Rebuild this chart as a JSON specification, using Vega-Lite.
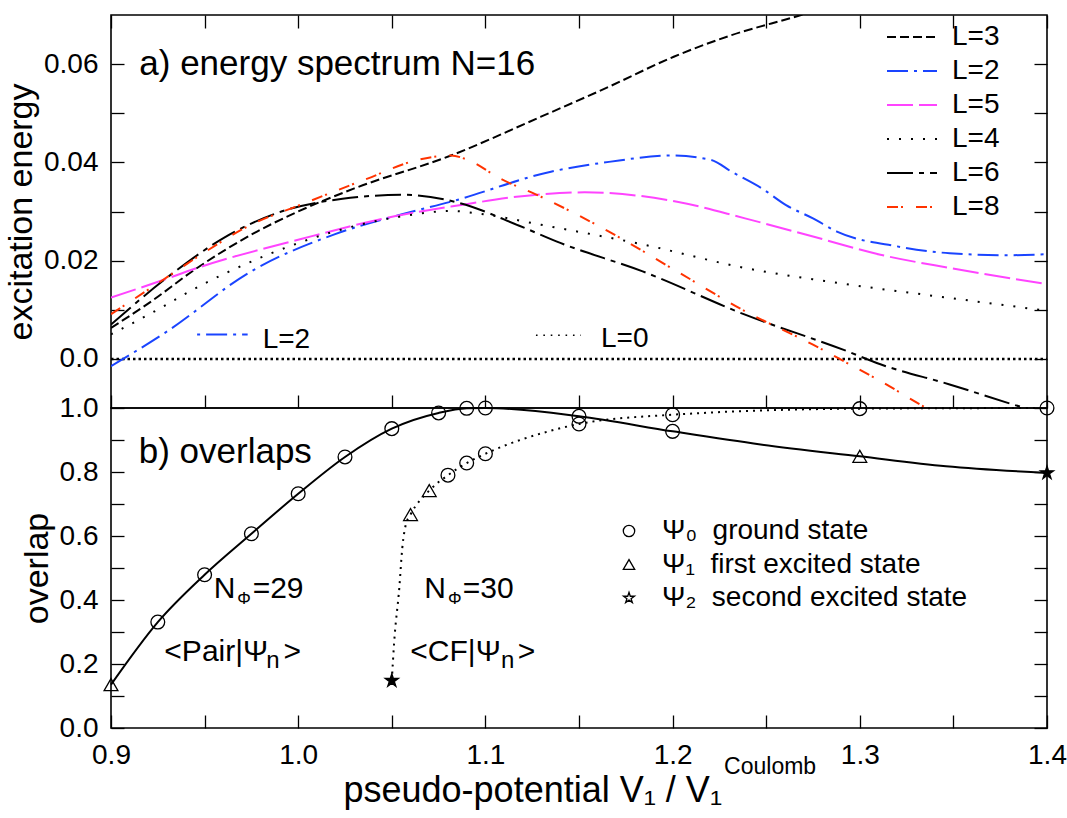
{
  "$schema": "https://vega.github.io/schema/vega-lite/v6.json",
  "background": "white",
  "padding": {"left": 3, "top": 13, "right": 5, "bottom": 5},
  "spacing": 0,
  "bounds": "flush",
  "config": {
    "font": "Liberation Sans",
    "view": {"stroke": "black", "strokeWidth": 1.6},
    "axis": {"grid": false, "domain": false, "ticks": true, "tickColor": "black", "tickWidth": 1.3, "tickSize": -13, "labelFont": "Liberation Sans", "labelFontSize": 28, "labelColor": "black", "labelPadding": 26, "labelFlush": false, "labelOverlap": false, "titleFont": "Liberation Sans", "titleFontSize": 34, "titleFontWeight": "normal", "titleColor": "black", "titlePadding": 5},
    "legend": {"labelFont": "Liberation Sans", "labelColor": "black", "labelFontSize": 28, "labelLimit": 500}
  },
  "resolve": {"scale": {"color": "independent", "strokeDash": "independent", "shape": "independent"}, "legend": {"color": "independent", "strokeDash": "independent", "shape": "independent"}},
  "datasets": {
    "zero": [{"x": 0.9, "y": 0}, {"x": 1.4, "y": 0}],
    "lines": [
      {"L": "L=3", "x": 0.9, "y": 0.0063}, {"L": "L=3", "x": 0.92, "y": 0.0113}, {"L": "L=3", "x": 0.946, "y": 0.0185}, {"L": "L=3", "x": 0.975, "y": 0.0253}, {"L": "L=3", "x": 1.0, "y": 0.030}, {"L": "L=3", "x": 1.03, "y": 0.0347}, {"L": "L=3", "x": 1.0816, "y": 0.0414}, {"L": "L=3", "x": 1.1297, "y": 0.0493}, {"L": "L=3", "x": 1.166, "y": 0.0554}, {"L": "L=3", "x": 1.2006, "y": 0.0615}, {"L": "L=3", "x": 1.2315, "y": 0.0659}, {"L": "L=3", "x": 1.2678, "y": 0.0699}, {"L": "L=3", "x": 1.3, "y": 0.0738},
      {"L": "L=2", "x": 0.9, "y": -0.0015}, {"L": "L=2", "x": 0.93, "y": 0.0056}, {"L": "L=2", "x": 0.9748, "y": 0.0178}, {"L": "L=2", "x": 1.019, "y": 0.0253}, {"L": "L=2", "x": 1.055, "y": 0.0294}, {"L": "L=2", "x": 1.0816, "y": 0.032}, {"L": "L=2", "x": 1.135, "y": 0.0381}, {"L": "L=2", "x": 1.166, "y": 0.0401}, {"L": "L=2", "x": 1.1993, "y": 0.0414}, {"L": "L=2", "x": 1.2205, "y": 0.0405}, {"L": "L=2", "x": 1.2315, "y": 0.0381}, {"L": "L=2", "x": 1.2477, "y": 0.0347}, {"L": "L=2", "x": 1.2606, "y": 0.0313}, {"L": "L=2", "x": 1.275, "y": 0.0286}, {"L": "L=2", "x": 1.2878, "y": 0.0259}, {"L": "L=2", "x": 1.32, "y": 0.0229}, {"L": "L=2", "x": 1.348, "y": 0.0215}, {"L": "L=2", "x": 1.3786, "y": 0.0211}, {"L": "L=2", "x": 1.4, "y": 0.0213},
      {"L": "L=5", "x": 0.9, "y": 0.0125}, {"L": "L=5", "x": 0.9267, "y": 0.0159}, {"L": "L=5", "x": 0.946, "y": 0.0185}, {"L": "L=5", "x": 1.0015, "y": 0.0244}, {"L": "L=5", "x": 1.055, "y": 0.0293}, {"L": "L=5", "x": 1.0816, "y": 0.031}, {"L": "L=5", "x": 1.1297, "y": 0.0335}, {"L": "L=5", "x": 1.153, "y": 0.0339}, {"L": "L=5", "x": 1.2024, "y": 0.032}, {"L": "L=5", "x": 1.2387, "y": 0.0286}, {"L": "L=5", "x": 1.275, "y": 0.0249}, {"L": "L=5", "x": 1.311, "y": 0.0212}, {"L": "L=5", "x": 1.348, "y": 0.0185}, {"L": "L=5", "x": 1.4, "y": 0.0152},
      {"L": "L=4", "x": 0.9, "y": 0.005}, {"L": "L=4", "x": 0.9267, "y": 0.0104}, {"L": "L=4", "x": 0.939, "y": 0.0131}, {"L": "L=4", "x": 0.9837, "y": 0.0212}, {"L": "L=4", "x": 1.019, "y": 0.0259}, {"L": "L=4", "x": 1.055, "y": 0.029}, {"L": "L=4", "x": 1.0816, "y": 0.0301}, {"L": "L=4", "x": 1.0996, "y": 0.0294}, {"L": "L=4", "x": 1.1297, "y": 0.0273}, {"L": "L=4", "x": 1.184, "y": 0.0233}, {"L": "L=4", "x": 1.2387, "y": 0.0185}, {"L": "L=4", "x": 1.293, "y": 0.0152}, {"L": "L=4", "x": 1.348, "y": 0.0124}, {"L": "L=4", "x": 1.4, "y": 0.0098},
      {"L": "L=6", "x": 0.9, "y": 0.007}, {"L": "L=6", "x": 0.9339, "y": 0.0177}, {"L": "L=6", "x": 0.9605, "y": 0.0247}, {"L": "L=6", "x": 0.988, "y": 0.0296}, {"L": "L=6", "x": 1.0237, "y": 0.0326}, {"L": "L=6", "x": 1.0558, "y": 0.0334}, {"L": "L=6", "x": 1.0855, "y": 0.0318}, {"L": "L=6", "x": 1.1181, "y": 0.0271}, {"L": "L=6", "x": 1.14, "y": 0.0236}, {"L": "L=6", "x": 1.184, "y": 0.0178}, {"L": "L=6", "x": 1.2387, "y": 0.009}, {"L": "L=6", "x": 1.293, "y": 0.0016}, {"L": "L=6", "x": 1.311, "y": -0.0011}, {"L": "L=6", "x": 1.348, "y": -0.0052}, {"L": "L=6", "x": 1.3786, "y": -0.0089}, {"L": "L=6", "x": 1.395, "y": -0.0108},
      {"L": "L=8", "x": 0.9, "y": 0.0091}, {"L": "L=8", "x": 0.9267, "y": 0.0158}, {"L": "L=8", "x": 0.948, "y": 0.0212}, {"L": "L=8", "x": 0.9748, "y": 0.0273}, {"L": "L=8", "x": 1.0015, "y": 0.0314}, {"L": "L=8", "x": 1.037, "y": 0.0367}, {"L": "L=8", "x": 1.0638, "y": 0.0405}, {"L": "L=8", "x": 1.0816, "y": 0.0414}, {"L": "L=8", "x": 1.0906, "y": 0.0405}, {"L": "L=8", "x": 1.108, "y": 0.0367}, {"L": "L=8", "x": 1.1297, "y": 0.033}, {"L": "L=8", "x": 1.166, "y": 0.0259}, {"L": "L=8", "x": 1.2024, "y": 0.0178}, {"L": "L=8", "x": 1.2387, "y": 0.0097}, {"L": "L=8", "x": 1.275, "y": 0.0029}, {"L": "L=8", "x": 1.293, "y": -0.0008}, {"L": "L=8", "x": 1.311, "y": -0.0045}, {"L": "L=8", "x": 1.335, "y": -0.0099}, {"L": "L=8", "x": 1.345, "y": -0.012}
    ],
    "sampleL2": [{"x": 0.946, "y": 0.00495}, {"x": 0.973, "y": 0.00495}],
    "sampleL0": [{"x": 1.127, "y": 0.0048}, {"x": 1.151, "y": 0.0048}],
    "topnotes": [
      {"t": "a) energy spectrum N=16", "x": 0.91512, "y": 0.05787, "k": "title"},
      {"t": "L=2", "x": 0.981, "y": 0.00223, "k": "leg"},
      {"t": "L=0", "x": 1.16175, "y": 0.0024, "k": "leg"}
    ],
    "pair": [
      {"x": 0.9, "y": 0.1356}, {"x": 0.925, "y": 0.331}, {"x": 0.95, "y": 0.479}, {"x": 0.975, "y": 0.607}, {"x": 1.0, "y": 0.732}, {"x": 1.025, "y": 0.847}, {"x": 1.05, "y": 0.9355}, {"x": 1.075, "y": 0.9845}, {"x": 1.09, "y": 0.999}, {"x": 1.1, "y": 1.0}, {"x": 1.15, "y": 0.974}, {"x": 1.2, "y": 0.927}, {"x": 1.247, "y": 0.886}, {"x": 1.3, "y": 0.849}, {"x": 1.346, "y": 0.818}, {"x": 1.4, "y": 0.797}
    ],
    "cf": [
      {"x": 1.05, "y": 0.148}, {"x": 1.0513, "y": 0.271}, {"x": 1.054, "y": 0.4375}, {"x": 1.0556, "y": 0.5625}, {"x": 1.0575, "y": 0.636}, {"x": 1.06, "y": 0.667}, {"x": 1.07, "y": 0.742}, {"x": 1.08, "y": 0.79}, {"x": 1.09, "y": 0.828}, {"x": 1.1, "y": 0.857}, {"x": 1.135, "y": 0.929}, {"x": 1.15, "y": 0.95}, {"x": 1.2, "y": 0.979}, {"x": 1.3, "y": 0.998}, {"x": 1.4, "y": 1.0}
    ],
    "markers": [
      {"x": 0.9, "y": 0.1356, "state": "Ψ₁\u00a0\u00a0first excited state"},
      {"x": 0.925, "y": 0.331, "state": "Ψ₀\u00a0\u00a0ground state"},
      {"x": 0.95, "y": 0.479, "state": "Ψ₀\u00a0\u00a0ground state"},
      {"x": 0.975, "y": 0.607, "state": "Ψ₀\u00a0\u00a0ground state"},
      {"x": 1.0, "y": 0.732, "state": "Ψ₀\u00a0\u00a0ground state"},
      {"x": 1.025, "y": 0.847, "state": "Ψ₀\u00a0\u00a0ground state"},
      {"x": 1.05, "y": 0.9355, "state": "Ψ₀\u00a0\u00a0ground state"},
      {"x": 1.075, "y": 0.9845, "state": "Ψ₀\u00a0\u00a0ground state"},
      {"x": 1.09, "y": 0.999, "state": "Ψ₀\u00a0\u00a0ground state"},
      {"x": 1.1, "y": 1.0, "state": "Ψ₀\u00a0\u00a0ground state"},
      {"x": 1.15, "y": 0.974, "state": "Ψ₀\u00a0\u00a0ground state"},
      {"x": 1.2, "y": 0.927, "state": "Ψ₀\u00a0\u00a0ground state"},
      {"x": 1.3, "y": 0.849, "state": "Ψ₁\u00a0\u00a0first excited state"},
      {"x": 1.4, "y": 0.797, "state": "Ψ₂\u00a0\u00a0second excited state"},
      {"x": 1.05, "y": 0.148, "state": "Ψ₂\u00a0\u00a0second excited state"},
      {"x": 1.06, "y": 0.667, "state": "Ψ₁\u00a0\u00a0first excited state"},
      {"x": 1.07, "y": 0.742, "state": "Ψ₁\u00a0\u00a0first excited state"},
      {"x": 1.08, "y": 0.79, "state": "Ψ₀\u00a0\u00a0ground state"},
      {"x": 1.09, "y": 0.828, "state": "Ψ₀\u00a0\u00a0ground state"},
      {"x": 1.1, "y": 0.857, "state": "Ψ₀\u00a0\u00a0ground state"},
      {"x": 1.15, "y": 0.95, "state": "Ψ₀\u00a0\u00a0ground state"},
      {"x": 1.2, "y": 0.979, "state": "Ψ₀\u00a0\u00a0ground state"},
      {"x": 1.3, "y": 0.998, "state": "Ψ₀\u00a0\u00a0ground state"},
      {"x": 1.4, "y": 1.0, "state": "Ψ₀\u00a0\u00a0ground state"}
    ],
    "botnotes": [
      {"t": "b) overlaps", "x": 0.9148, "y": 0.828, "k": "title"},
      {"t": "N", "x": 0.95486, "y": 0.40625, "k": "main"},
      {"t": "Φ", "x": 0.9675, "y": 0.389, "k": "subphi"},
      {"t": "=29", "x": 0.97567, "y": 0.40625, "k": "main"},
      {"t": "N", "x": 1.0674, "y": 0.40625, "k": "main"},
      {"t": "Φ", "x": 1.08, "y": 0.389, "k": "subphi"},
      {"t": "=30", "x": 1.0879, "y": 0.40625, "k": "main"},
      {"t": "<Pair|Ψ", "x": 0.9285, "y": 0.2084, "k": "main"},
      {"t": "n", "x": 0.98291, "y": 0.1875, "k": "subn"},
      {"t": ">", "x": 0.9922, "y": 0.2084, "k": "main"},
      {"t": "<CF|Ψ", "x": 1.0599, "y": 0.2084, "k": "main"},
      {"t": "n", "x": 1.10833, "y": 0.1875, "k": "subn"},
      {"t": ">", "x": 1.11725, "y": 0.2084, "k": "main"},
      {"t": "Coulomb", "x": 1.2275, "y": -0.1447, "k": "sup"}
    ]
  },
  "vconcat": [
    {
      "width": 936,
      "height": 393,
      "layer": [
        {
          "data": {"name": "zero"},
          "mark": {"type": "line", "color": "black", "strokeWidth": 2.5, "strokeDash": [2.5, 3]},
          "encoding": {
            "x": {"field": "x", "type": "quantitative", "scale": {"domain": [0.9, 1.4], "nice": false, "zero": false}, "axis": {"orient": "bottom", "values": [0.9, 0.95, 1.0, 1.05, 1.1, 1.15, 1.2, 1.25, 1.3, 1.35, 1.4], "labels": false, "title": null}},
            "y": {"field": "y", "type": "quantitative", "scale": {"domain": [-0.01, 0.07], "nice": false, "zero": false}, "axis": {"orient": "left", "values": [0, 0.01, 0.02, 0.03, 0.04, 0.05, 0.06], "labelExpr": "datum.value == 0 ? '0.0' : (round(datum.value * 100) % 2 == 0 ? format(datum.value, '.2f') : '')", "title": "excitation energy"}}
          }
        },
        {
          "data": {"name": "zero"},
          "mark": {"type": "line", "opacity": 0},
          "encoding": {
            "x": {"field": "x", "type": "quantitative", "axis": {"orient": "top", "values": [0.9, 0.95, 1.0, 1.05, 1.1, 1.15, 1.2, 1.25, 1.3, 1.35, 1.4], "labels": false, "title": null}},
            "y": {"field": "y", "type": "quantitative", "axis": {"orient": "right", "values": [0, 0.01, 0.02, 0.03, 0.04, 0.05, 0.06], "labels": false, "title": null}}
          }
        },
        {
          "data": {"name": "lines"},
          "mark": {"type": "line", "clip": true, "strokeWidth": 2, "interpolate": "monotone"},
          "encoding": {
            "x": {"field": "x", "type": "quantitative", "axis": null},
            "y": {"field": "y", "type": "quantitative", "axis": null},
            "color": {"field": "L", "type": "nominal", "scale": {"domain": ["L=3", "L=2", "L=5", "L=4", "L=6", "L=8"], "range": ["black", "#1a44ff", "#ff44ff", "black", "black", "#ff3300"]}, "legend": {"title": null, "orient": "none", "direction": "vertical", "legendX": 775, "legendY": 8, "symbolType": "stroke", "symbolSize": 2500, "symbolStrokeWidth": 2, "clipHeight": 28, "rowPadding": 6, "labelFontSize": 28, "labelOffset": 14, "padding": 0}},
            "strokeDash": {"field": "L", "type": "nominal", "scale": {"domain": ["L=3", "L=2", "L=5", "L=4", "L=6", "L=8"], "range": [[9, 4], [21, 6, 3, 6], [26, 6], [2, 10], [26, 6, 5, 6], [11, 3, 2, 13]]}, "legend": {"title": null, "orient": "none", "direction": "vertical", "legendX": 775, "legendY": 8, "symbolType": "stroke", "symbolSize": 2500, "symbolStrokeWidth": 2, "clipHeight": 28, "rowPadding": 6, "labelFontSize": 28, "labelOffset": 14, "padding": 0}}
          }
        },
        {
          "data": {"name": "sampleL2"},
          "mark": {"type": "line", "color": "#1a44ff", "strokeWidth": 2, "strokeDash": [21, 6, 3, 6], "strokeDashOffset": 27},
          "encoding": {
            "x": {"field": "x", "type": "quantitative", "axis": null},
            "y": {"field": "y", "type": "quantitative", "axis": null}
          }
        },
        {
          "data": {"name": "sampleL0"},
          "mark": {"type": "line", "color": "black", "strokeWidth": 1.6, "strokeDash": [1.6, 5.8]},
          "encoding": {
            "x": {"field": "x", "type": "quantitative", "axis": null},
            "y": {"field": "y", "type": "quantitative", "axis": null}
          }
        },
        {
          "data": {"name": "topnotes"},
          "transform": [{"filter": "datum.k == 'title'"}],
          "mark": {"type": "text", "align": "left", "baseline": "alphabetic", "fontSize": 35, "color": "black"},
          "encoding": {
            "x": {"field": "x", "type": "quantitative", "axis": null},
            "y": {"field": "y", "type": "quantitative", "axis": null},
            "text": {"field": "t"}
          }
        },
        {
          "data": {"name": "topnotes"},
          "transform": [{"filter": "datum.k == 'leg'"}],
          "mark": {"type": "text", "align": "left", "baseline": "alphabetic", "fontSize": 28, "color": "black"},
          "encoding": {
            "x": {"field": "x", "type": "quantitative", "axis": null},
            "y": {"field": "y", "type": "quantitative", "axis": null},
            "text": {"field": "t"}
          }
        }
      ],
      "resolve": {"axis": {"x": "independent", "y": "independent"}}
    },
    {
      "width": 936,
      "height": 320,
      "layer": [
        {
          "data": {"name": "pair"},
          "mark": {"type": "line", "color": "black", "strokeWidth": 2, "interpolate": "monotone"},
          "encoding": {
            "x": {"field": "x", "type": "quantitative", "scale": {"domain": [0.9, 1.4], "nice": false, "zero": false}, "axis": {"orient": "bottom", "values": [0.9, 0.95, 1.0, 1.05, 1.1, 1.15, 1.2, 1.25, 1.3, 1.35, 1.4], "labelExpr": "round(datum.value * 100) % 10 == 0 ? format(datum.value, '.1f') : ''", "title": "pseudo-potential V₁ / V₁", "titleFontSize": 36, "titleAnchor": "start", "titleAlign": "left", "titleX": 232, "titleY": 73, "titleBaseline": "alphabetic"}},
            "y": {"field": "y", "type": "quantitative", "scale": {"domain": [0, 1], "nice": false, "zero": false}, "axis": {"orient": "left", "values": [0, 0.1, 0.2, 0.3, 0.4, 0.5, 0.6, 0.7, 0.8, 0.9, 1.0], "labelExpr": "round(datum.value * 10) % 2 == 0 ? format(datum.value, '.1f') : ''", "title": "overlap"}}
          }
        },
        {
          "data": {"name": "pair"},
          "mark": {"type": "line", "opacity": 0},
          "encoding": {
            "x": {"field": "x", "type": "quantitative", "axis": null},
            "y": {"field": "y", "type": "quantitative", "axis": {"orient": "right", "values": [0, 0.1, 0.2, 0.3, 0.4, 0.5, 0.6, 0.7, 0.8, 0.9, 1.0], "labels": false, "title": null}}
          }
        },
        {
          "data": {"name": "cf"},
          "mark": {"type": "line", "color": "black", "strokeWidth": 2, "strokeDash": [2, 5], "interpolate": "monotone"},
          "encoding": {
            "x": {"field": "x", "type": "quantitative", "axis": null},
            "y": {"field": "y", "type": "quantitative", "axis": null}
          }
        },
        {
          "data": {"name": "markers"},
          "mark": {"type": "point", "filled": false, "color": "black", "strokeWidth": 1.3, "size": 190, "opacity": 1},
          "encoding": {
            "x": {"field": "x", "type": "quantitative", "axis": null},
            "y": {"field": "y", "type": "quantitative", "axis": null},
            "shape": {"field": "state", "type": "nominal", "scale": {"domain": ["Ψ₀\u00a0\u00a0ground state", "Ψ₁\u00a0\u00a0first excited state", "Ψ₂\u00a0\u00a0second excited state"], "range": ["circle", "triangle-up", "M0,-1L0.2245,-0.309L0.951,-0.309L0.363,0.118L0.588,0.809L0,0.382L-0.588,0.809L-0.363,0.118L-0.951,-0.309L-0.2245,-0.309Z"]}, "legend": {"title": null, "orient": "none", "direction": "vertical", "legendX": 504, "legendY": 109, "symbolSize": 130, "symbolStrokeWidth": 1.3, "symbolStrokeColor": "black", "clipHeight": 28, "rowPadding": 5.5, "labelFontSize": 28, "labelOffset": 19, "padding": 0, "encode": {"symbols": {"update": {"fill": [{"test": "indexof(datum.label, 'second') >= 0", "value": "black"}, {"value": "transparent"}], "stroke": {"value": "black"}}}}}}
          }
        },
        {
          "data": {"name": "markers"},
          "transform": [{"filter": "indexof(datum.state, 'second') >= 0"}],
          "mark": {"type": "point", "filled": true, "color": "black", "shape": "M0,-1L0.2245,-0.309L0.951,-0.309L0.363,0.118L0.588,0.809L0,0.382L-0.588,0.809L-0.363,0.118L-0.951,-0.309L-0.2245,-0.309Z", "size": 190, "opacity": 1},
          "encoding": {
            "x": {"field": "x", "type": "quantitative", "axis": null},
            "y": {"field": "y", "type": "quantitative", "axis": null}
          }
        },
        {
          "data": {"name": "botnotes"},
          "transform": [{"filter": "datum.k == 'title'"}],
          "mark": {"type": "text", "align": "left", "baseline": "alphabetic", "fontSize": 35, "color": "black"},
          "encoding": {
            "x": {"field": "x", "type": "quantitative", "axis": null},
            "y": {"field": "y", "type": "quantitative", "axis": null},
            "text": {"field": "t"}
          }
        },
        {
          "data": {"name": "botnotes"},
          "transform": [{"filter": "datum.k == 'main'"}],
          "mark": {"type": "text", "align": "left", "baseline": "alphabetic", "fontSize": 30, "color": "black"},
          "encoding": {
            "x": {"field": "x", "type": "quantitative", "axis": null},
            "y": {"field": "y", "type": "quantitative", "axis": null},
            "text": {"field": "t"}
          }
        },
        {
          "data": {"name": "botnotes"},
          "transform": [{"filter": "datum.k == 'subphi'"}],
          "mark": {"type": "text", "align": "left", "baseline": "alphabetic", "fontSize": 17, "color": "black"},
          "encoding": {
            "x": {"field": "x", "type": "quantitative", "axis": null},
            "y": {"field": "y", "type": "quantitative", "axis": null},
            "text": {"field": "t"}
          }
        },
        {
          "data": {"name": "botnotes"},
          "transform": [{"filter": "datum.k == 'subn'"}],
          "mark": {"type": "text", "align": "left", "baseline": "alphabetic", "fontSize": 24, "color": "black"},
          "encoding": {
            "x": {"field": "x", "type": "quantitative", "axis": null},
            "y": {"field": "y", "type": "quantitative", "axis": null},
            "text": {"field": "t"}
          }
        },
        {
          "data": {"name": "botnotes"},
          "transform": [{"filter": "datum.k == 'sup'"}],
          "mark": {"type": "text", "align": "left", "baseline": "alphabetic", "fontSize": 23, "color": "black"},
          "encoding": {
            "x": {"field": "x", "type": "quantitative", "axis": null},
            "y": {"field": "y", "type": "quantitative", "axis": null},
            "text": {"field": "t"}
          }
        }
      ],
      "resolve": {"axis": {"x": "independent", "y": "independent"}}
    }
  ]
}
